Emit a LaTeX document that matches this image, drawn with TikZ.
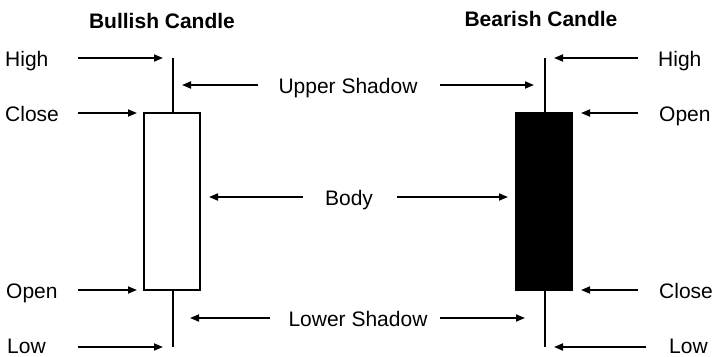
\documentclass[tikz,border=0pt]{standalone}
\usepackage{fontspec}
\setmainfont{Liberation Sans}
\usetikzlibrary{positioning,arrows.meta}

\begin{document}
\begin{tikzpicture}[x=1pt, y=-1pt,
  font=\fontsize{21}{24}\selectfont, >={Triangle[length=9pt,width=7pt]},
  lbl/.style={inner sep=0pt, anchor=base west},
  mid/.style={inner sep=0pt, anchor=base},
  ttl/.style={inner sep=0pt, anchor=base, font=\fontsize{21}{24}\selectfont\bfseries},
  arr/.style={->, line width=1.7pt},
  wick/.style={line width=1.8pt},
  candleBox/.style={draw, line width=1.6pt, minimum width=56pt, minimum height=177pt, inner sep=0pt},
]
\useasboundingbox (0,0) rectangle (712,356);

% titles
\node[ttl] (tBull) at (162,28) {Bullish Candle};
\node[ttl] (tBear) at (541,27) {Bearish Candle};

% bullish candle
\coordinate (bullTop) at (173,58);
\coordinate (bullBot) at (173,347);
\draw[wick] (bullTop) -- (bullBot);
\node[candleBox, fill=white] (bullBody) at (172,201.5) {};

% bearish candle
\coordinate (bearTop) at (545,58);
\coordinate (bearBot) at (545,347);
\draw[wick] (bearTop) -- (bearBot);
\node[candleBox, fill=black] (bearBody) at (544,201.5) {};

% left labels
\node[lbl] (lHigh)  at (5,66)  {High};
\node[lbl] (lClose) at (5,121) {Close};
\node[lbl] (lOpen)  at (6,298) {Open};
\node[lbl] (lLow)   at (7,353) {Low};
\coordinate (lHighA)  at (78,58);   \coordinate (lHighB)  at (163,58);
\coordinate (lCloseA) at (78,113);  \coordinate (lCloseB) at (137,113);
\coordinate (lOpenA)  at (78,290);  \coordinate (lOpenB)  at (137,290);
\coordinate (lLowA)   at (78,347);  \coordinate (lLowB)   at (163,347);
\draw[arr] (lHighA) -- (lHighB);
\draw[arr] (lCloseA) -- (lCloseB);
\draw[arr] (lOpenA) -- (lOpenB);
\draw[arr] (lLowA) -- (lLowB);

% right labels
\node[lbl] (rHigh)  at (658,66)  {High};
\node[lbl] (rOpen)  at (659,121) {Open};
\node[lbl] (rClose) at (659,298) {Close};
\node[lbl] (rLow)   at (669,353) {Low};
\coordinate (rHighA)  at (638,58);   \coordinate (rHighB)  at (554,58);
\coordinate (rOpenA)  at (638,113);  \coordinate (rOpenB)  at (581,113);
\coordinate (rCloseA) at (638,290);  \coordinate (rCloseB) at (581,290);
\coordinate (rLowA)   at (646,347);  \coordinate (rLowB)   at (554,347);
\draw[arr] (rHighA) -- (rHighB);
\draw[arr] (rOpenA) -- (rOpenB);
\draw[arr] (rCloseA) -- (rCloseB);
\draw[arr] (rLowA) -- (rLowB);

% middle labels
\node[mid] (upper) at (348,93)  {Upper Shadow};
\node[mid] (body)  at (349,205) {Body};
\node[mid] (lower) at (358,326) {Lower Shadow};
\coordinate (upA) at (258,85);  \coordinate (upB) at (182,85);
\coordinate (upC) at (440,85);  \coordinate (upD) at (534,85);
\coordinate (bdA) at (303,197); \coordinate (bdB) at (209,197);
\coordinate (bdC) at (397,197); \coordinate (bdD) at (508,197);
\coordinate (loA) at (270,318); \coordinate (loB) at (190,318);
\coordinate (loC) at (440,318); \coordinate (loD) at (525,318);
\draw[arr] (upA) -- (upB);
\draw[arr] (upC) -- (upD);
\draw[arr] (bdA) -- (bdB);
\draw[arr] (bdC) -- (bdD);
\draw[arr] (loA) -- (loB);
\draw[arr] (loC) -- (loD);
\end{tikzpicture}
\end{document}
